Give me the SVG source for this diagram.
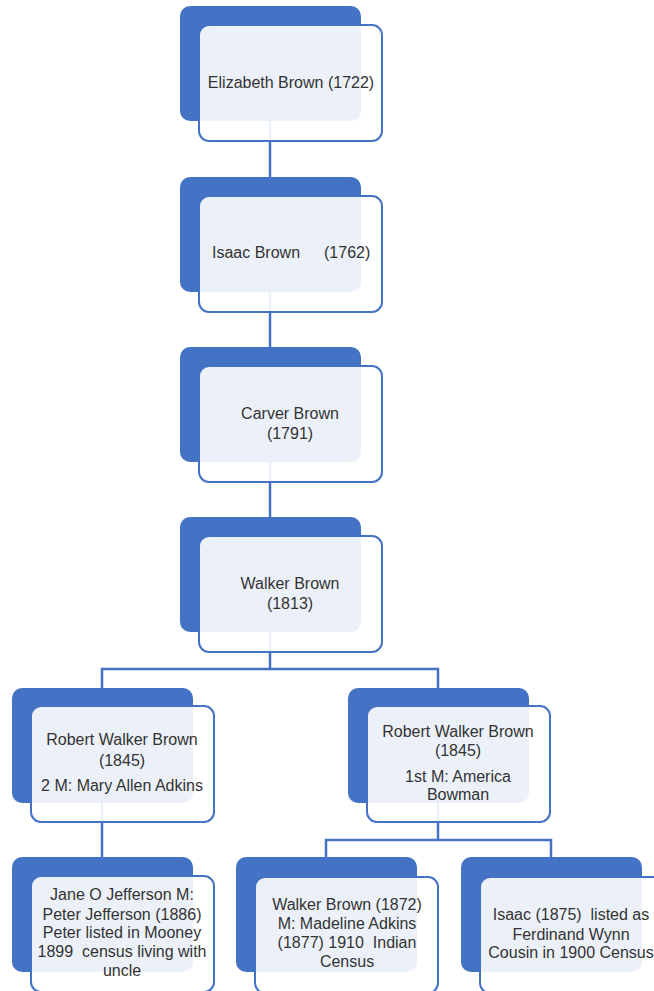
<svg xmlns="http://www.w3.org/2000/svg" width="654" height="991" viewBox="0 0 654 991">
<style>
.bk{fill:#4472C4}
.fr{fill:#ffffff;fill-opacity:0.9;stroke:#4472C4;stroke-width:2}
.cn{fill:none;stroke:#4472C4;stroke-width:2.5}
text{font-family:"Liberation Sans",Arial,sans-serif;font-size:16px;fill:#333333;text-anchor:middle}
</style>
<rect width="654" height="991" fill="#ffffff"/>
<g id="connectors">
<path class="cn" d="M270,121 V177"/>
<path class="cn" d="M270,292 V347"/>
<path class="cn" d="M270,462 V517"/>
<path class="cn" d="M270,632 V669"/>
<path class="cn" d="M102,688 V669 H438 V688"/>
<path class="cn" d="M102,802 V857"/>
<path class="cn" d="M438,802 V840"/>
<path class="cn" d="M326,857 V840 H551 V857"/>
</g>
<g id="n1">
<rect class="bk" x="180" y="6" width="181" height="115" rx="10"/>
<rect class="fr" x="199" y="25" width="183" height="116" rx="10"/>
<text x="291" y="88">Elizabeth Brown (1722)</text>
</g>
<g id="n2">
<rect class="bk" x="180" y="177" width="181" height="115" rx="10"/>
<rect class="fr" x="199" y="196" width="183" height="116" rx="10"/>
<text y="258" style="text-anchor:start"><tspan x="212">Isaac Brown</tspan><tspan x="324">(1762)</tspan></text>
</g>
<g id="n3">
<rect class="bk" x="180" y="347" width="181" height="115" rx="10"/>
<rect class="fr" x="199" y="366" width="183" height="116" rx="10"/>
<text x="290" y="419">Carver Brown</text>
<text x="290" y="439">(1791)</text>
</g>
<g id="n4">
<rect class="bk" x="180" y="517" width="181" height="115" rx="10"/>
<rect class="fr" x="199" y="536" width="183" height="116" rx="10"/>
<text x="290" y="589">Walker Brown</text>
<text x="290" y="609">(1813)</text>
</g>
<g id="n5">
<rect class="bk" x="12" y="688" width="181" height="115" rx="10"/>
<rect class="fr" x="31" y="706" width="183" height="116" rx="10"/>
<text x="122" y="745">Robert Walker Brown</text>
<text x="122" y="766">(1845)</text>
<text x="122" y="791">2 M: Mary Allen Adkins</text>
</g>
<g id="n6">
<rect class="bk" x="348" y="688" width="181" height="115" rx="10"/>
<rect class="fr" x="367" y="706" width="183" height="116" rx="10"/>
<text x="458" y="737">Robert Walker Brown</text>
<text x="458" y="756">(1845)</text>
<text x="458" y="782">1st M: America</text>
<text x="458" y="800">Bowman</text>
</g>
<g id="n7">
<rect class="bk" x="12" y="857" width="181" height="115" rx="10"/>
<rect class="fr" x="31" y="876" width="183" height="116" rx="10"/>
<text x="122" y="900">Jane O Jefferson M:</text>
<text x="122" y="920">Peter Jefferson (1886)</text>
<text x="122" y="938">Peter listed in Mooney</text>
<text x="122" y="957" xml:space="preserve">1899  census living with</text>
<text x="122" y="976">uncle</text>
</g>
<g id="n8">
<rect class="bk" x="236" y="857" width="181" height="115" rx="10"/>
<rect class="fr" x="255" y="877" width="183" height="116" rx="10"/>
<text x="347" y="910">Walker Brown (1872)</text>
<text x="347" y="929">M: Madeline Adkins</text>
<text x="347" y="948" xml:space="preserve">(1877) 1910  Indian</text>
<text x="347" y="967">Census</text>
</g>
<g id="n9">
<rect class="bk" x="461" y="857" width="181" height="115" rx="10"/>
<rect class="fr" x="480" y="877" width="183" height="116" rx="10"/>
<text x="571" y="920" xml:space="preserve">Isaac (1875)  listed as</text>
<text x="571" y="940">Ferdinand Wynn</text>
<text x="571" y="958">Cousin in 1900 Census</text>
</g>
</svg>
